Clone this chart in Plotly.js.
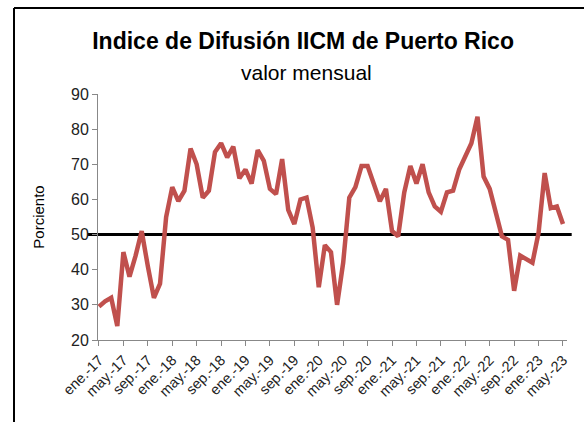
<!DOCTYPE html>
<html>
<head>
<meta charset="utf-8">
<script src="https://cdn.plot.ly/plotly-3.0.1.min.js"></script>
<style>
  html, body { margin: 0; padding: 0; background: #fff; }
  #chart { width: 584px; height: 422px; }
</style>
</head>
<body>
<div id="chart"></div>
<script>
const months = ["ene.","feb.","mar.","abr.","may.","jun.","jul.","ago.","sep.","oct.","nov.","dic."];
const years = ["17","18","19","20","21","22","23"];
const categories = [];
for (const y of years) for (const m of months) categories.push(m + "-" + y);
const nPoints = 77; // ene.-17 ... may.-23
const monthLabels = categories.slice(0, nPoints);

const diffusionIndex = [
  29.5, 31, 32, 24, 45, 38, 44, 51, 41, 32, 36, 55,
  63.5, 59.5, 62.5, 74.5, 70, 60.5, 62.5, 73.5, 76, 72, 75, 66,
  68.5, 64.5, 74, 71, 63, 61.5, 71.5, 57, 53, 60, 60.5, 52,
  35, 47, 45, 30, 42, 60.5, 63.5, 69.5, 69.5, 64, 59.5, 63,
  51, 49.5, 62, 69.5, 64.5, 70, 62, 58, 56.5, 62, 62.5, 68.5,
  72.5, 76, 83.5, 66.5, 63, 56, 49.5, 48.5, 34, 44, 43, 42,
  50.5, 67.5, 57.5, 58, 53
];

const tickLabels = monthLabels.filter((_, i) => i % 4 === 0);
const threshold = 50;

const trace = {
  x: monthLabels,
  y: diffusionIndex,
  type: "scatter",
  mode: "lines",
  line: { color: "#C0504D", width: 4.5 },
  hoverinfo: "x+y"
};

const layout = {
  width: 584,
  height: 422,
  margin: { l: 98, r: 17, t: 94, b: 82 },
  paper_bgcolor: "#ffffff",
  plot_bgcolor: "#ffffff",
  showlegend: false,
  font: { family: "Liberation Sans, Arial, sans-serif", color: "#222" },
  title: {
    text: "<b>Indice de Difusión IICM de Puerto Rico</b>",
    font: { size: 23, color: "#000", family: "Liberation Sans, Arial, sans-serif" },
    xref: "container", x: 0.519, xanchor: "center",
    yref: "container", y: 1 - 41 / 422, yanchor: "middle"
  },
  annotations: [{
    text: "valor mensual",
    xref: "paper", yref: "paper",
    x: (306 - 98) / 469, y: 1 + (94 - 72) / 246,
    xanchor: "center", yanchor: "middle",
    showarrow: false,
    font: { size: 21, color: "#000" }
  }],
  xaxis: {
    type: "category",
    categoryorder: "array",
    categoryarray: monthLabels,
    range: [-0.16, 76.66],
    tickmode: "array",
    tickvals: tickLabels,
    ticktext: tickLabels,
    tickangle: -45,
    ticks: "outside",
    ticklen: 5,
    tickcolor: "#888",
    showline: true,
    linecolor: "#888",
    linewidth: 1,
    showgrid: false,
    zeroline: false,
    tickfont: { size: 14.5, color: "#222" }
  },
  yaxis: {
    range: [20, 90],
    tickvals: [20, 30, 40, 50, 60, 70, 80, 90],
    ticks: "outside",
    ticklen: 5,
    tickcolor: "#888",
    showline: true,
    linecolor: "#888",
    linewidth: 1,
    showgrid: false,
    zeroline: false,
    tickfont: { size: 16, color: "#222" },
    title: { text: "Porciento", font: { size: 15, color: "#000" }, standoff: 22 }
  },
  shapes: [
    {
      type: "line", xref: "paper", yref: "y",
      x0: -0.022, x1: 1.01, y0: threshold, y1: threshold,
      line: { color: "#000", width: 3 }, layer: "below"
    },
    {
      type: "line", xref: "paper", yref: "paper",
      x0: (14 - 98) / 469, x1: (14 - 98) / 469,
      y0: 1 + (94 - 8) / 246, y1: -0.4,
      line: { color: "#000", width: 2 }
    },
    {
      type: "line", xref: "paper", yref: "paper",
      x0: (14 - 98) / 469, x1: 1.1,
      y0: 1 + (94 - 8) / 246, y1: 1 + (94 - 8) / 246,
      line: { color: "#000", width: 2 }
    }
  ]
};

Plotly.newPlot("chart", [trace], layout, { displayModeBar: false, staticPlot: true });
</script>
</body>
</html>
